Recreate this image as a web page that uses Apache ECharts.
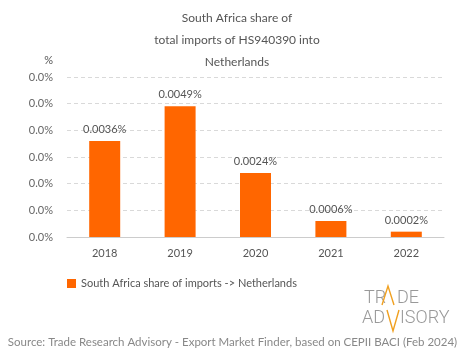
<!DOCTYPE html>
<html>
<head>
<meta charset="utf-8">
<script src="https://cdn.jsdelivr.net/npm/echarts@6/dist/echarts.min.js"></script>
<style>html,body{margin:0;padding:0;background:#fff}#c{width:465px;height:359px}</style>
</head>
<body>
<div id="c"></div>
<script>
const categories = ['2018', '2019', '2020', '2021', '2022'];
const shareValues = [0.0036, 0.0049, 0.0024, 0.0006, 0.0002];
const seriesName = 'South Africa share of imports -> Netherlands';
const titleLines = ['South Africa share of', 'total imports of HS940390 into', 'Netherlands'];
const sourceText = 'Source: Trade Research Advisory - Export Market Finder, based on CEPII BACI (Feb 2024)';

const FONT = 'Lato';
const chart = echarts.init(document.getElementById('c'));
chart.setOption({
  animation: false,
  backgroundColor: '#fff',
  title: {
    text: titleLines.join('\n'),
    left: 232, top: 2, textAlign: 'center',
    textStyle: { fontFamily: FONT, fontSize: 12, fontWeight: 'normal', color: '#555', lineHeight: 22 }
  },
  grid: { left: 67, right: 21, top: 77, bottom: 122 },
  legend: {
    left: 62, top: 273, itemWidth: 9, itemHeight: 9, itemGap: 5,
    icon: 'rect',
    textStyle: { fontFamily: FONT, fontSize: 11, color: '#555' },
    data: [seriesName]
  },
  xAxis: {
    type: 'category', data: categories,
    axisLine: { lineStyle: { color: '#ccc' } },
    axisTick: { show: false },
    axisLabel: { fontFamily: FONT, fontSize: 11, color: '#555', margin: 11 }
  },
  yAxis: {
    type: 'value', min: 0, max: 0.006, interval: 0.001,
    name: '%', nameLocation: 'end', nameGap: 11,
    nameTextStyle: { fontFamily: FONT, fontSize: 11, color: '#555', align: 'right', padding: [0, 14, 0, 0] },
    axisLabel: { fontFamily: FONT, fontSize: 11, color: '#666', margin: 14, formatter: v => v.toFixed(1) + '%' },
    splitLine: { lineStyle: { color: '#d9d9d9', type: [4, 3] } },
    axisLine: { show: false }, axisTick: { show: false }
  },
  series: [{
    name: seriesName, type: 'bar', data: shareValues,
    barWidth: 31,
    itemStyle: { color: '#ff6600' },
    label: { show: true, position: 'top', distance: 6, fontFamily: FONT, fontSize: 11, color: '#555',
             formatter: p => p.value.toFixed(4) + '%' }
  }],
  graphic: [
    { type: 'text', left: 'center', top: 336,
      style: { text: sourceText, fontFamily: FONT, fontSize: 11.5, fill: '#888' } },
    { type: 'text', x: 364, y: 289, style: { text: 'TR', fontFamily: 'Roboto', fontWeight: 300, fontSize: 18, fill: '#999' } },
    { type: 'text', x: 397, y: 289, style: { text: 'DE', fontFamily: 'Roboto', fontWeight: 300, fontSize: 18, fill: '#999' } },
    { type: 'polyline', shape: { points: [[382, 305], [388, 286], [394, 305]] },
      style: { stroke: '#f0a020', lineWidth: 1.4, fill: null } },
    { type: 'text', x: 362, y: 309, style: { text: 'AD', fontFamily: 'Roboto', fontWeight: 300, fontSize: 18, fill: '#999' } },
    { type: 'text', x: 400, y: 309, style: { text: 'ISORY', fontFamily: 'Roboto', fontWeight: 300, fontSize: 18, fill: '#999' } },
    { type: 'polyline', shape: { points: [[387, 310], [393, 331], [399, 310]] },
      style: { stroke: '#f0a020', lineWidth: 1.4, fill: null } }
  ]
});
</script>
</body>
</html>
